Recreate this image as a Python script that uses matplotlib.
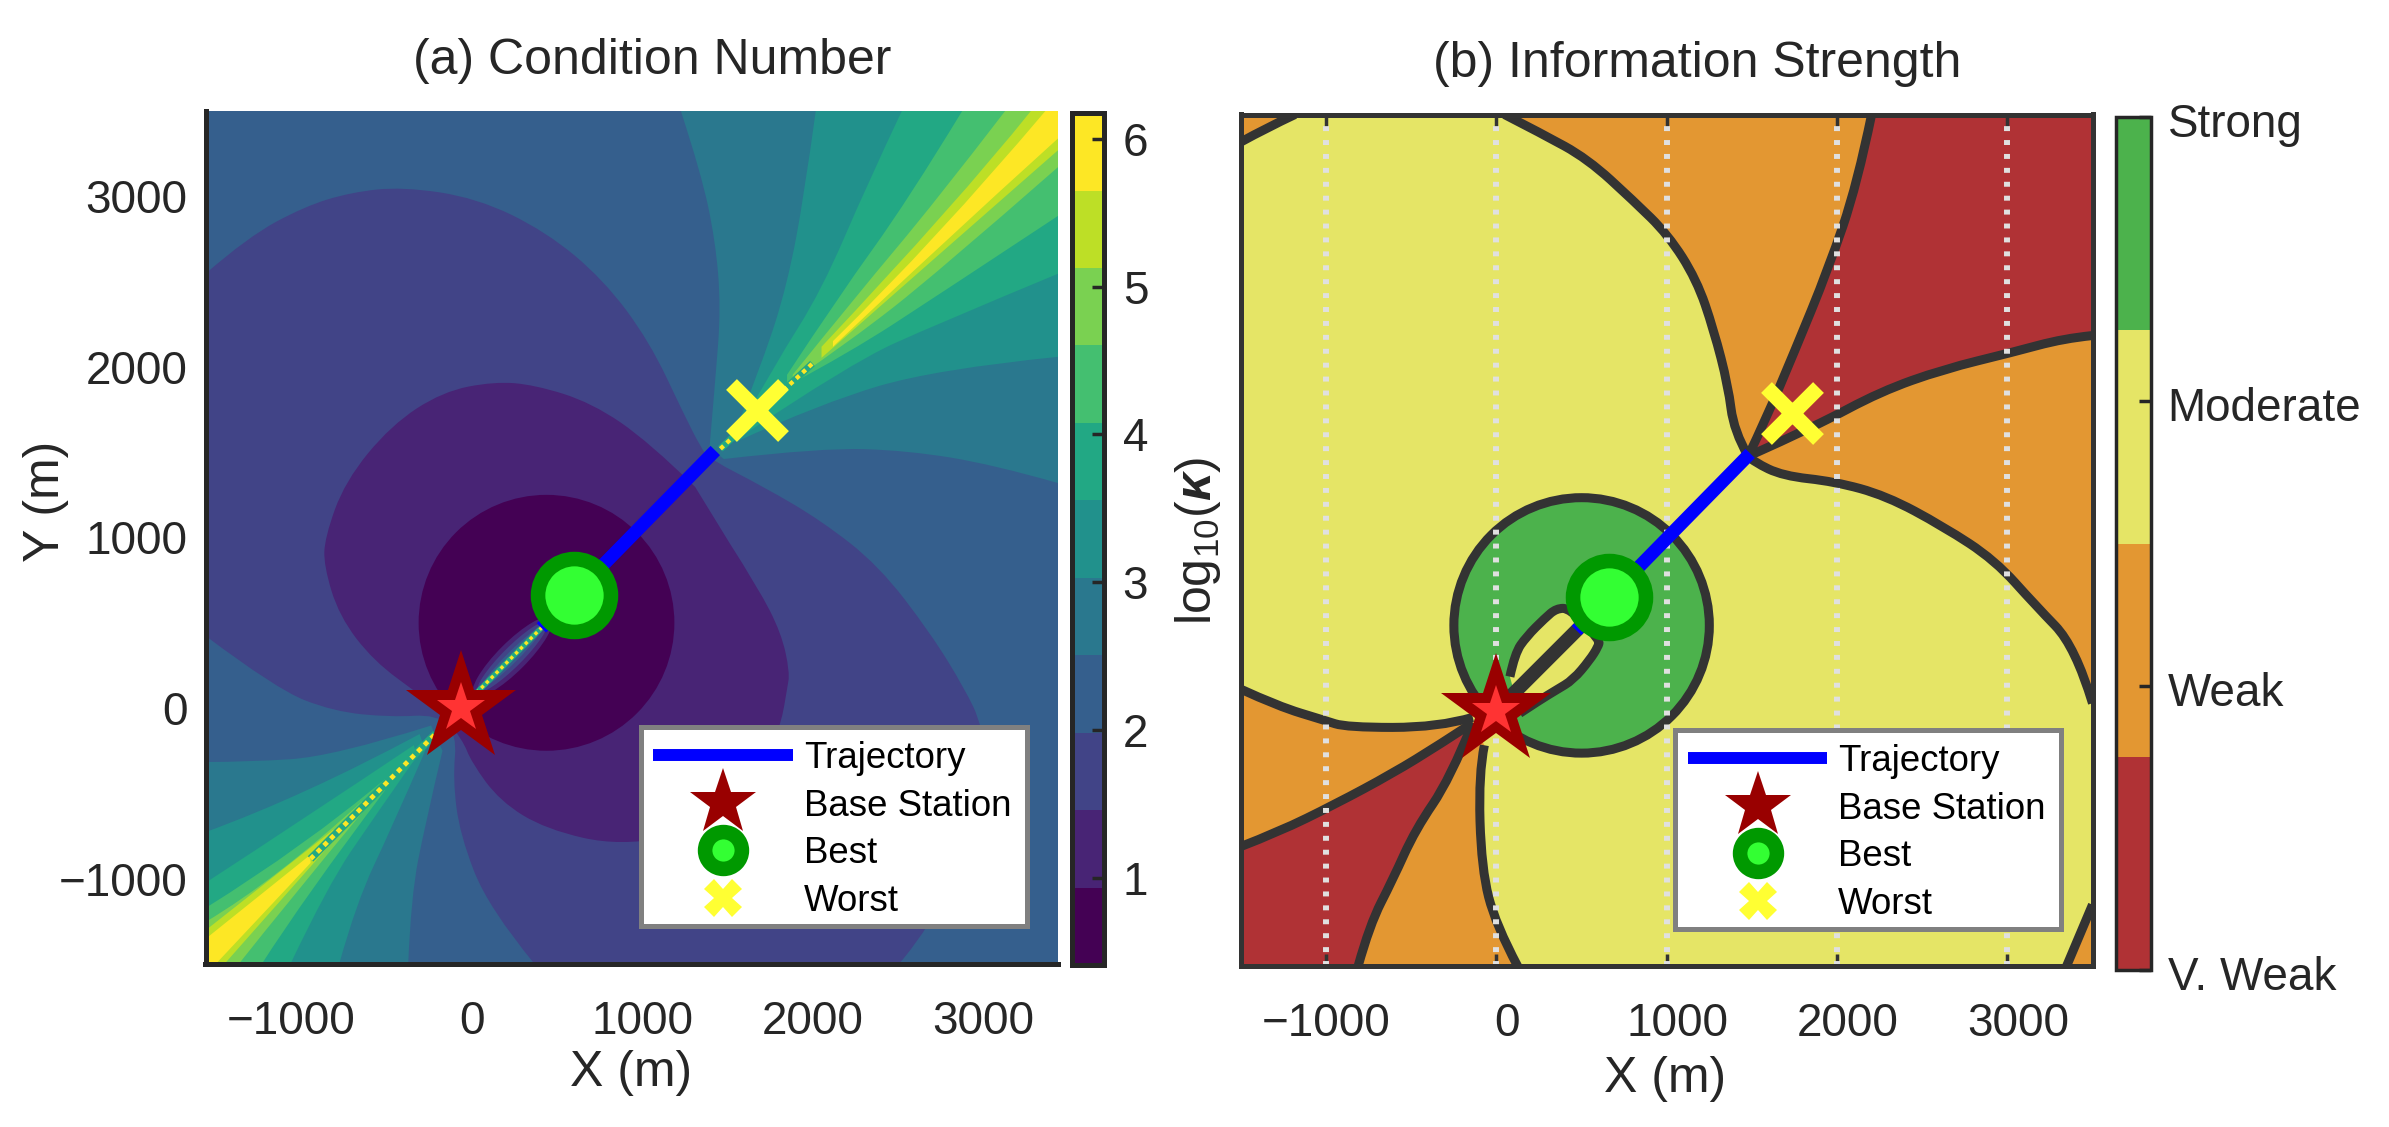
import matplotlib
matplotlib.use("Agg")
import matplotlib.pyplot as plt
from matplotlib.colors import ListedColormap, BoundaryNorm, Normalize
from matplotlib.cm import ScalarMappable
from matplotlib.lines import Line2D
from matplotlib.patches import Circle, Ellipse, PathPatch, Rectangle
from matplotlib.path import Path
from matplotlib.transforms import ScaledTranslation

plt.rcParams["font.family"] = ["Liberation Sans", "DejaVu Sans"]
plt.rcParams["mathtext.fontset"] = "custom"
plt.rcParams["mathtext.rm"] = "Liberation Sans"
plt.rcParams["mathtext.it"] = "Liberation Sans:italic"
plt.rcParams["mathtext.bf"] = "Liberation Sans:bold"
plt.rcParams["mathtext.bfit"] = "Liberation Sans:italic:bold"

FIG_W, FIG_H = 2389, 1127

# axis ticks
x_ticks = [-1000, 0, 1000, 2000, 3000]
x_tick_labels = ["\u22121000", "0", "1000", "2000", "3000"]
y_ticks = [-1000, 0, 1000, 2000, 3000]
y_tick_labels = ["\u22121000", "0", "1000", "2000", "3000"]
x_range = [-1500, 3500]
y_range = [-1500, 3500]

# points of interest
base_station = [0, 0]
best_point = [660, 665]
worst_point = [1735, 1745]
trajectory_x = [470, 1490]
trajectory_y = [470, 1510]
zero_circle_center = [500, 500]
zero_circle_radius = 750

# colorbar (a)
cond_levels = [0.41, 0.934, 1.458, 1.982, 2.506, 3.03, 3.554, 4.078, 4.602, 5.126, 5.65, 6.175]
cond_ticks = [1, 2, 3, 4, 5, 6]

# colorbar (b)
strength_labels = ["V. Weak", "Weak", "Moderate", "Strong"]
strength_ticks = [0, 1, 2, 3]
strength_colors = ["#b03235", "#e39732", "#e5e566", "#4cb24c"]

# (a) regions with low condition number
indigo_region = [(-1500, 2546), (-1254, 2760), (-918, 2941), (-648, 3023), (-345, 3056), (92, 2990), (497, 2793),
                 (833, 2513), (1103, 2151), (1305, 1724), (1406, 1526), (1456, 1460), (1776, 1296), (2113, 1098),
                 (2449, 835), (2752, 440), (2954, 112), (3055, -102), (3123, -547), (2752, -1287), (2567, -1500),
                 (430, -1500), (160, -1172), (-8, -744), (-49, -415), (-25, -152), (-143, -37), (-412, -53),
                 (-749, -20), (-1086, 112), (-1500, 424)]
purple_region = [(1372, 1296), (1103, 1559), (766, 1790), (429, 1895), (193, 1914), (-110, 1855), (-412, 1658),
                 (-682, 1329), (-800, 1000), (-806, 835), (-716, 539), (-514, 276), (-244, 79), (-143, -4),
                 (8, -185), (59, -316), (227, -546), (497, -711), (934, -810), (1439, -711), (1776, -382),
                 (1877, -86), (1911, 112), (1927, 210), (1877, 440), (1742, 704), (1574, 967)]

# (a) north-east fan, one polygon per level
fan_ne = {
    4: [(1456, 1526), (1490, 1921), (1523, 2349), (1490, 2743), (1406, 3138), (1288, 3500), (3500, 3500),
        (3500, 1319), (3123, 1427), (2618, 1510), (2113, 1526), (1540, 1460)],
    5: [(1608, 1625), (1776, 2053), (1911, 2480), (2012, 3007), (2079, 3500), (3500, 3500),
        (3500, 2059), (2786, 1987), (2113, 1789), (1608, 1559)],
    6: [(1641, 1658), (1843, 2020), (2113, 2447), (2382, 3073), (2584, 3500), (3500, 3500),
        (3500, 2546), (2786, 2250), (2281, 2020), (1641, 1592)],
    7: [(1911, 1954), (2214, 2414), (2618, 2974), (2938, 3500), (3500, 3500),
        (3500, 2885), (2786, 2414), (2281, 2086), (1911, 1888)],
    8: [(1944, 1954), (2315, 2414), (2786, 2974), (3190, 3500), (3500, 3500),
        (3500, 3171), (2786, 2546), (2281, 2151), (1944, 1921)],
    9: [(2113, 2118), (2921, 2974), (3341, 3500), (3500, 3500), (3500, 3270), (2786, 2645), (2113, 2053)],
    10: [(2180, 2151), (2786, 2743), (3426, 3500), (3500, 3500), (3500, 3339), (2786, 2694), (2180, 2118)],
}

# (a) south-west fan, one polygon per level
fan_sw = {
    4: [(-177, -102), (-749, -283), (-1254, -316), (-1500, -316), (-1500, -1500),
        (-311, -1500), (-295, -1106), (-211, -678), (-110, -250)],
    5: [(-244, -152), (-918, -514), (-1500, -727), (-1500, -1500),
        (-716, -1500), (-615, -1139), (-412, -711), (-211, -250)],
    6: [(-278, -217), (-918, -645), (-1500, -1024), (-1500, -1500),
        (-1002, -1500), (-783, -1040), (-514, -645), (-261, -283)],
    7: [(-446, -415), (-918, -810), (-1500, -1172), (-1500, -1500), (-1170, -1500), (-918, -1106), (-446, -481)],
    8: [(-581, -546), (-1086, -1007), (-1500, -1254), (-1500, -1500), (-1305, -1500), (-1019, -1139), (-581, -612)],
    9: [(-749, -711), (-1500, -1303), (-1500, -1500), (-1389, -1500), (-749, -777)],
    10: [(-884, -859), (-1500, -1353), (-1500, -1500), (-1440, -1500), (-884, -908)],
}

# (a) narrow ridges along the line through the base station
ridge_ne_x = [1520, 2060]
ridge_ne_y = [1520, 2020]
ridge_sw_x = [-884, -150]
ridge_sw_y = [-884, -150]
ridge_mid_x = [60, 490]
ridge_mid_y = [60, 490]

# (b) boundary curves
north_arc = [(47, 3500), (266, 3388), (535, 3240), (805, 2993), (1007, 2795), (1175, 2531), (1276, 2235),
             (1361, 1905), (1394, 1641), (1478, 1493)]
ne_left = [(1478, 1493), (1580, 1707), (1748, 2103), (1950, 2597), (2119, 3092), (2203, 3500)]
ne_right = [(1478, 1493), (1883, 1674), (2253, 1872), (2624, 2004), (3028, 2103), (3331, 2185), (3500, 2202)]
east_arc = [(3500, 43), (3399, 376), (3163, 620), (2927, 883), (2624, 1081), (2287, 1262), (1984, 1345),
            (1681, 1378), (1512, 1460), (1478, 1493)]
nw_corner = [(-1500, 3339), (-1351, 3421), (-1183, 3500)]
west_top = [(-1500, 125), (-1284, 26), (-1015, -56), (-880, -99), (-341, -99), (-139, -40)]
west_low = [(-139, -72), (-341, -204), (-610, -369), (-947, -550), (-1284, -715), (-1500, -798)]
south_left = [(-139, -72), (-273, -402), (-476, -699), (-610, -995), (-745, -1259), (-812, -1500)]
south_right = [(124, -1500), (-4, -1259), (-88, -930), (-105, -370), (-71, -204)]
se_corner = [(3348, -1500), (3500, -1140)]
notch = [(79, 199), (108, 336), (176, 434), (284, 542), (352, 600), (431, 600), (607, 414), (597, 375),
         (548, 297), (450, 180), (352, 121), (255, 62), (137, -16)]
dark_segment_x = [30, 560]
dark_segment_y = [30, 560]
sharp_points = [(1478, 1493), (-139, -72), (-139, -40), (-71, -204)]


def px_axes(fig, left, top, right, bottom):
    return fig.add_axes([left / FIG_W, 1 - bottom / FIG_H, (right - left) / FIG_W, (bottom - top) / FIG_H])


def is_sharp(p):
    return abs(p[0]) == 1500 or p[0] == 3500 or abs(p[1]) == 1500 or p[1] == 3500 or p in sharp_points


def rounded_path(points):
    # same read points, only the corners get rounded when drawn
    verts = [points[0]]
    codes = [Path.MOVETO]
    for i in range(1, len(points) - 1):
        p = points[i]
        nxt = points[i + 1]
        if is_sharp(p):
            verts.append(p)
            codes.append(Path.LINETO)
            continue
        if i + 2 == len(points) or is_sharp(nxt):
            end = nxt
        else:
            end = ((p[0] + nxt[0]) / 2, (p[1] + nxt[1]) / 2)
        verts += [p, end]
        codes += [Path.CURVE3, Path.CURVE3]
    verts.append(points[-1])
    codes.append(Path.LINETO)
    return Path(verts, codes)


def fill_points(ax, points, color, zorder):
    ax.add_patch(PathPatch(rounded_path(points), facecolor=color, edgecolor="none", lw=0, zorder=zorder))


def line_points(ax, points, zorder=5):
    ax.add_patch(PathPatch(rounded_path(points), facecolor="none", edgecolor="#333333", lw=6.5,
                           joinstyle="round", capstyle="butt", zorder=zorder))


def style_ticks(ax):
    ax.set_xlim(x_range)
    ax.set_ylim(y_range)
    ax.set_xticks(x_ticks)
    ax.set_xticklabels(x_tick_labels)


def shift_x_labels(fig, ax):
    # positive x labels sit a little to the right in the original
    for value, lab in zip(x_ticks, ax.get_xticklabels()):
        if value >= 0:
            lab.set_transform(lab.get_transform() + ScaledTranslation(0.105, 0, fig.dpi_scale_trans))


def draw_markers(ax):
    ax.plot(*base_station, marker="*", ms=83, color="#990000", mew=0, ls="none", zorder=8)
    ax.plot(*base_station, marker="*", ms=37, color="#ff3333", mew=0, ls="none", zorder=9)
    ax.plot(*best_point, marker="o", ms=52.5, mfc="#33ff33", mec="#009900", mew=10.5, ls="none", zorder=8)
    ax.plot(*worst_point, marker="x", ms=37.5, color="#ffff33", mew=11, ls="none", zorder=8)


def draw_legend(fig, ax, box):
    left, top, right, bottom = box
    to_fig = fig.transFigure
    ax.add_patch(Rectangle((left / FIG_W, 1 - bottom / FIG_H), (right - left) / FIG_W, (bottom - top) / FIG_H,
                           transform=to_fig, facecolor="white", edgecolor="#808080", lw=3.6, zorder=19))
    handles = [
        Line2D([], [], color="#0000ff", lw=8.6, solid_capstyle="butt"),
        Line2D([], [], marker="*", ms=50, color="#990000", mew=0, ls="none"),
        Line2D([], [], marker="o", ms=26.5, mfc="#33ff33", mec="#009900", mew=10.5, ls="none"),
        Line2D([], [], marker="X", ms=27, color="#ffff33", mew=0, ls="none"),
    ]
    leg = ax.legend(handles, ["Trajectory", "Base Station", "Best", "Worst"], loc="upper left",
                    bbox_to_anchor=(left / FIG_W, 1 - (top + 2) / FIG_H), bbox_transform=to_fig,
                    borderaxespad=0, fontsize=26.4, handlelength=3.8, handletextpad=0.3,
                    labelspacing=0.34, borderpad=0.35, frameon=False)
    leg.set_zorder(20)


fig = plt.figure(figsize=(FIG_W / 100, FIG_H / 100), dpi=100)

# panel (a)
ax_a = px_axes(fig, 205.5, 111, 1058, 964)
band_colors = [plt.get_cmap("viridis", 11)(i) for i in range(11)]
ax_a.set_facecolor(band_colors[3])
fill_points(ax_a, indigo_region, band_colors[2], 1)
fill_points(ax_a, purple_region, band_colors[1], 2)
ax_a.add_patch(Circle(zero_circle_center, zero_circle_radius, color=band_colors[0], lw=0, zorder=3))
for level in sorted(fan_ne):
    fill_points(ax_a, fan_ne[level], band_colors[level], 2 + level / 100)
for level in sorted(fan_sw):
    fill_points(ax_a, fan_sw[level], band_colors[level], 2 + level / 100)
ax_a.add_patch(Ellipse((300, 300), 640, 170, angle=45, color=band_colors[1], lw=0, zorder=4))
ax_a.add_patch(Ellipse((300, 300), 570, 115, angle=45, color=band_colors[2], lw=0, zorder=4.1))
ax_a.add_patch(Ellipse((300, 300), 500, 65, angle=45, color=band_colors[3], lw=0, zorder=4.2))
for rx, ry, w in [(ridge_ne_x, ridge_ne_y, 5), (ridge_sw_x, ridge_sw_y, 5.5), (ridge_mid_x, ridge_mid_y, 4)]:
    ax_a.plot(rx, ry, color=band_colors[6], lw=w, zorder=4.3, solid_capstyle="butt")
    ax_a.plot(rx, ry, color=band_colors[10], lw=w * 0.62, ls=(0, (1, 1)), zorder=4.4)
ax_a.plot(trajectory_x, trajectory_y, color="#0000ff", lw=9.5, solid_capstyle="butt", zorder=7)
draw_markers(ax_a)
style_ticks(ax_a)
ax_a.set_yticks(y_ticks)
ax_a.set_yticklabels(y_tick_labels)
ax_a.tick_params(axis="both", length=0, labelsize=33, colors="#262626")
ax_a.tick_params(axis="x", pad=26)
ax_a.tick_params(axis="y", pad=13)
shift_x_labels(fig, ax_a)
for side in ["top", "right"]:
    ax_a.spines[side].set_visible(False)
for side in ["left", "bottom"]:
    ax_a.spines[side].set_linewidth(3.6)
    ax_a.spines[side].set_color("#262626")
draw_legend(fig, ax_a, (640.5, 726.5, 1026.5, 925.5))

# colorbar (a)
cax_a = px_axes(fig, 1072, 113, 1104, 965)
cmap_a = ListedColormap(band_colors)
cb_a = fig.colorbar(ScalarMappable(norm=BoundaryNorm(cond_levels, 11), cmap=cmap_a), cax=cax_a,
                    spacing="proportional", ticks=cond_ticks)
cb_a.ax.set_yticklabels([str(t) for t in cond_ticks])
cb_a.ax.minorticks_off()
cb_a.ax.tick_params(direction="in", length=9, width=2.5, labelsize=33, pad=13.5, color="#262626", labelcolor="#262626")
cb_a.outline.set_linewidth(3.6)
cb_a.outline.set_edgecolor("#262626")

# panel (b)
ax_b = px_axes(fig, 1241, 114.5, 2092.5, 966)
ax_b.set_facecolor(strength_colors[2])
corner_ne = [(3500, 3500)]
fill_points(ax_b, north_arc + ne_left[1:], strength_colors[1], 1)
fill_points(ax_b, ne_left + corner_ne + ne_right[::-1], strength_colors[0], 1)
fill_points(ax_b, ne_right + east_arc, strength_colors[1], 1)
fill_points(ax_b, nw_corner + [(-1500, 3500)], strength_colors[1], 1)
fill_points(ax_b, west_top + west_low, strength_colors[1], 1)
fill_points(ax_b, west_low + [(-1500, -1500)] + south_left[::-1], strength_colors[0], 1)
fill_points(ax_b, south_left + south_right, strength_colors[1], 1)
fill_points(ax_b, se_corner + [(3500, -1500)], strength_colors[1], 1)
ax_b.add_patch(Circle(zero_circle_center, zero_circle_radius, facecolor=strength_colors[3],
                      edgecolor="#333333", lw=6.5, zorder=2))
fill_points(ax_b, notch, strength_colors[2], 3)
for curve in [north_arc, ne_left, ne_right, east_arc, nw_corner, west_top, west_low, south_left, south_right,
              se_corner, notch]:
    line_points(ax_b, curve)
ax_b.plot(dark_segment_x, dark_segment_y, color="#333333", lw=10, solid_capstyle="butt", zorder=5)
for xt in x_ticks:
    ax_b.plot([xt, xt], y_range, color="#e0e0e0", lw=4.3, ls=(0, (0.83, 1.5)), zorder=6)
ax_b.plot(trajectory_x, trajectory_y, color="#0000ff", lw=9.5, solid_capstyle="butt", zorder=7)
draw_markers(ax_b)
style_ticks(ax_b)
ax_b.set_yticks([])
ax_b.tick_params(axis="x", direction="in", top=True, length=9, width=2.5, labelsize=33, pad=26,
                 color="#333333", labelcolor="#262626")
shift_x_labels(fig, ax_b)
for side in ax_b.spines:
    ax_b.spines[side].set_linewidth(3.6)
    ax_b.spines[side].set_color("#333333")
    ax_b.spines[side].set_zorder(15)
draw_legend(fig, ax_b, (1675, 729.5, 2061, 928.5))

# colorbar (b)
cax_b = px_axes(fig, 2116, 117, 2151, 970)
cb_b = fig.colorbar(ScalarMappable(norm=Normalize(0, 3), cmap=ListedColormap(strength_colors)), cax=cax_b,
                    ticks=strength_ticks)
cb_b.ax.set_yticklabels(strength_labels)
cb_b.ax.tick_params(direction="in", length=9, width=2.5, labelsize=33, pad=12, color="#262626", labelcolor="#262626")
for lab in cb_b.ax.get_yticklabels():
    lab.set_transform(lab.get_transform() + ScaledTranslation(0, -0.03, fig.dpi_scale_trans))
cb_b.outline.set_linewidth(2.5)
cb_b.outline.set_edgecolor("#262626")

# titles and labels
fig.text(652 / FIG_W, 1 - 61 / FIG_H, "(a) Condition Number", fontsize=36, ha="center", va="center", color="#262626")
fig.text(1697 / FIG_W, 1 - 64 / FIG_H, "(b) Information Strength", fontsize=36, ha="center", va="center", color="#262626")
fig.text(631 / FIG_W, 1 - 1073 / FIG_H, "X (m)", fontsize=36, ha="center", va="center", color="#262626")
fig.text(1665 / FIG_W, 1 - 1079 / FIG_H, "X (m)", fontsize=36, ha="center", va="center", color="#262626")
fig.text(46 / FIG_W, 1 - 501 / FIG_H, "Y (m)", fontsize=36, rotation=90, ha="center", va="center", color="#262626")
fig.text(1198 / FIG_W, 1 - 541 / FIG_H, r"log$_{10}$($\mathbfit{\kappa}$)", fontsize=36, rotation=90,
         ha="center", va="center", color="#262626")

fig.savefig("out.png", dpi=100)
